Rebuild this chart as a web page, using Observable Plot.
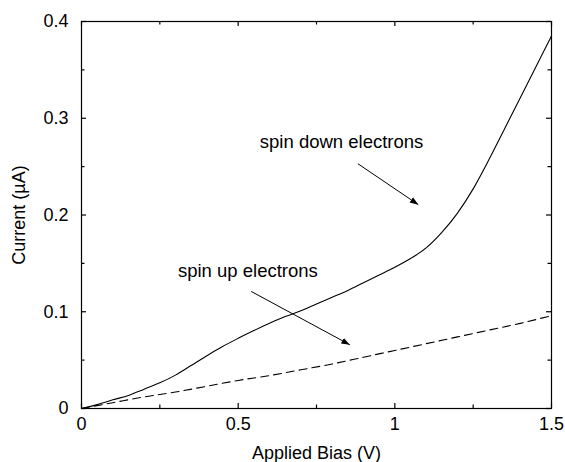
<!DOCTYPE html>
<html>
<head>
<meta charset="utf-8">
<script src="https://cdn.jsdelivr.net/npm/d3@7"></script>
<script src="https://cdn.jsdelivr.net/npm/@observablehq/plot@0.6"></script>
<style>
  html, body { margin: 0; padding: 0; background: #fff; }
</style>
</head>
<body>
<div id="chart"></div>
<script>
// Spin down electrons (solid)
const downBias = [0, 0.05, 0.1, 0.15, 0.2, 0.25, 0.3, 0.35, 0.4, 0.45, 0.5, 0.55, 0.6, 0.65, 0.7, 0.75, 0.8, 0.85, 0.9, 0.95, 1.0, 1.05, 1.1, 1.15, 1.2, 1.25, 1.3, 1.35, 1.4, 1.45, 1.5];
const downCurrent = [0, 0.004, 0.009, 0.0135, 0.020, 0.0265, 0.0345, 0.0445, 0.0545, 0.064, 0.0725, 0.0805, 0.088, 0.095, 0.101, 0.108, 0.115, 0.122, 0.130, 0.138, 0.146, 0.155, 0.166, 0.182, 0.202, 0.227, 0.257, 0.289, 0.321, 0.353, 0.385];
// Spin up electrons (dashed)
const upBias = [0, 0.1, 0.2, 0.3, 0.4, 0.5, 0.6, 0.7, 0.8, 0.9, 1.0, 1.1, 1.2, 1.3, 1.4, 1.5];
const upCurrent = [0, 0.006, 0.012, 0.017, 0.023, 0.029, 0.034, 0.040, 0.046, 0.053, 0.060, 0.067, 0.074, 0.081, 0.088, 0.096];

// Tick labels
const xTicks = [0, 0.5, 1, 1.5];
const xMinorTicks = [0.25, 0.75, 1.25];
const yTicks = [0, 0.1, 0.2, 0.3, 0.4];
const yMinorTicks = [0.05, 0.15, 0.25, 0.35];

// Annotations
const labelTexts = ["spin down electrons", "spin up electrons"];
const labelX = [0.83, 0.531];
const labelY = [0.275, 0.142];
const arrowX1 = [0.882, 0.5416];
const arrowY1 = [0.253, 0.121];
const arrowX2 = [1.075, 0.8564];
const arrowY2 = [0.2107, 0.0659];

const down = downBias.map((x, i) => ({x, y: downCurrent[i]}));
const up = upBias.map((x, i) => ({x, y: upCurrent[i]}));
const labels = labelTexts.map((t, i) => ({t, x: labelX[i], y: labelY[i]}));
const arrows = arrowX1.map((x1, i) => ({x1, y1: arrowY1[i], x2: arrowX2[i], y2: arrowY2[i]}));

const W = 565, H = 462, ML = 81, MR = 14, MT = 21, MB = 54;
const innerW = W - ML - MR, innerH = H - MT - MB;
const xDomain = [0, 1.5], yDomain = [0, 0.4];
// pixel tick lengths converted to domain units
const dx = px => px * (xDomain[1] - xDomain[0]) / innerW;
const dy = px => px * (yDomain[1] - yDomain[0]) / innerH;

// inward tick marks on all four sides
const xTickMarks = (ticks, len) => [
  Plot.ruleX(ticks, {x: d => d, y1: yDomain[0], y2: yDomain[0] + dy(len), stroke: "black", strokeWidth: 1.2}),
  Plot.ruleX(ticks, {x: d => d, y1: yDomain[1] - dy(len), y2: yDomain[1], stroke: "black", strokeWidth: 1.2})
];
const yTickMarks = (ticks, len) => [
  Plot.ruleY(ticks, {y: d => d, x1: xDomain[0], x2: xDomain[0] + dx(len), stroke: "black", strokeWidth: 1.2}),
  Plot.ruleY(ticks, {y: d => d, x1: xDomain[1] - dx(len), x2: xDomain[1], stroke: "black", strokeWidth: 1.2})
];

// filled triangular arrowhead marker
const SVGNS = "http://www.w3.org/2000/svg";
function filledHead(color, context) {
  const doc = (context && context.document) || document;
  const m = doc.createElementNS(SVGNS, "marker");
  m.setAttribute("viewBox", "-10 -5 10 10");
  m.setAttribute("markerWidth", "8.5");
  m.setAttribute("markerHeight", "8.5");
  m.setAttribute("markerUnits", "userSpaceOnUse");
  m.setAttribute("refX", "0");
  m.setAttribute("refY", "0");
  m.setAttribute("orient", "auto");
  const p = doc.createElementNS(SVGNS, "path");
  p.setAttribute("d", "M-10,-3.6L0,0L-10,3.6Z");
  p.setAttribute("fill", color || "black");
  p.setAttribute("stroke", "none");
  m.appendChild(p);
  return m;
}

function build(useMarker) {
  const arrowMark = useMarker
    ? Plot.link(arrows, {x1: "x1", y1: "y1", x2: "x2", y2: "y2", stroke: "black", strokeWidth: 1, markerEnd: filledHead})
    : Plot.arrow(arrows, {x1: "x1", y1: "y1", x2: "x2", y2: "y2", stroke: "black", strokeWidth: 1, headLength: 8, headAngle: 45});
  return Plot.plot({
    width: W,
    height: H,
    marginLeft: ML,
    marginRight: MR,
    marginTop: MT,
    marginBottom: MB,
    style: {fontFamily: "'Liberation Sans', Arial, Helvetica, sans-serif", fontSize: "18px", color: "black", background: "white"},
    x: {domain: xDomain},
    y: {domain: yDomain},
    marks: [
      Plot.axisX(xTicks, {anchor: "bottom", tickSize: 0, tickPadding: 9, tickFormat: d => String(d), label: "Applied Bias (V)", labelAnchor: "center", labelArrow: "none", labelOffset: 50}),
      Plot.axisY(yTicks, {anchor: "left", tickSize: 0, tickPadding: 13, tickFormat: d => String(d), label: "Current (µA)", labelAnchor: "center", labelArrow: "none", labelOffset: 69}),
      ...xTickMarks(xTicks, 5),
      ...xTickMarks(xMinorTicks, 3.5),
      ...yTickMarks(yTicks, 5),
      ...yTickMarks(yMinorTicks, 3.5),
      Plot.line(down, {x: "x", y: "y", stroke: "black", strokeWidth: 1.1, curve: "monotone-x"}),
      Plot.line(up, {x: "x", y: "y", stroke: "black", strokeWidth: 1.1, strokeDasharray: "8,5", curve: "monotone-x"}),
      arrowMark,
      Plot.text(labels, {x: "x", y: "y", text: "t", fill: "black", fontSize: 18.5}),
      Plot.frame({stroke: "black", strokeWidth: 1.2})
    ]
  });
}

let chart;
try { chart = build(true); } catch (e) { chart = build(false); }
document.getElementById("chart").appendChild(chart);
</script>
</body>
</html>
